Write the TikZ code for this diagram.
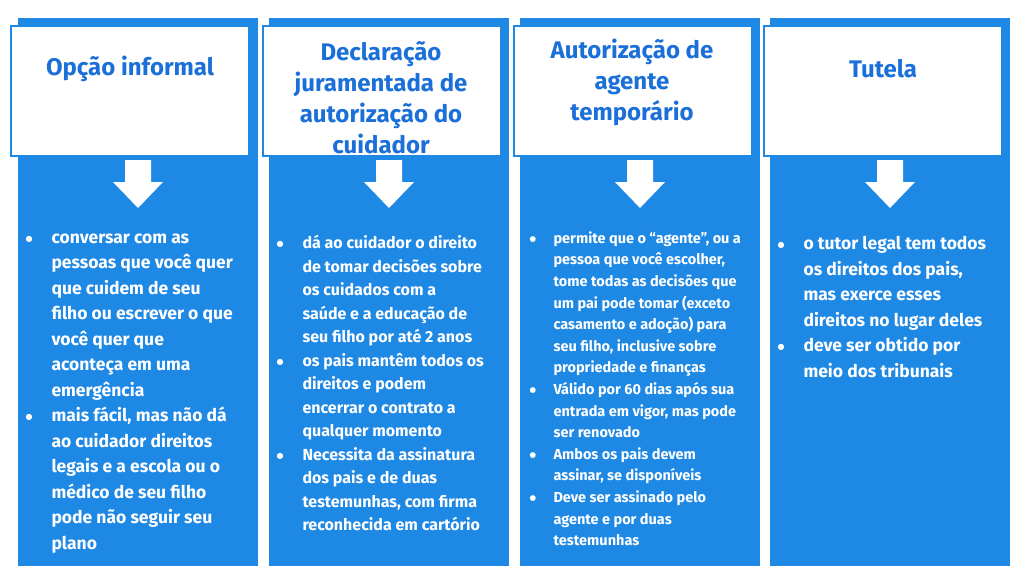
\documentclass[tikz,border=0pt]{standalone}
\usepackage{fontspec}
\setmainfont{Fira Sans}
\newfontfamily\symfont{DejaVu Sans}
\usetikzlibrary{positioning,arrows.meta}
\definecolor{colblue}{HTML}{1E88E5}
\definecolor{headblue}{HTML}{1A6FD8}
\tikzset{
  column/.style={fill=colblue, draw=none},
  headbox/.style={fill=white, draw=colblue, line width=1.5pt, minimum width=238pt, minimum height=130pt, anchor=north west},
  headtext/.style={text=headblue, font=\bfseries\fontsize{24}{31}\selectfont, align=center},
  downarrow/.style={fill=white, draw=none},
  bodytext/.style={text=white, anchor=north west, align=left}
}
\newcommand{\bl}{\makebox[26pt][l]{\raisebox{2pt}{\symfont\fontsize{8}{8}\selectfont ●}}}
\newcommand{\ind}{\hspace*{26pt}}
\newcommand{\bls}{\makebox[24pt][l]{\raisebox{2pt}{\symfont\fontsize{7.5}{8}\selectfont ●}}}
\newcommand{\inds}{\hspace*{24pt}}
\begin{document}
\begin{tikzpicture}[x=1pt,y=-1pt]
  \useasboundingbox (0,0) rectangle (1024,576);
  \fill[white] (0,0) rectangle (1024,576);
  % columns
  \foreach \cx/\nm in {18/ca, 269/cb, 520/cc, 770/cd}{
    \fill[column] (\cx,18) rectangle ++(240,548);
    \fill[downarrow] (\cx+107,160) -- ++(26,0) -- ++(0,22) -- ++(12,0) -- ++(-25,26) -- ++(-25,-26) -- ++(12,0) -- cycle;
  }
  % headers
  \node[headbox] (ha) at (10,25) {};
  \node[headbox] (hb) at (262,25) {};
  \node[headbox] (hc) at (513,25) {};
  \node[headbox] (hd) at (763,25) {};
  \node[headtext] at (130,69) {Opção informal};
  \node[headtext] at (381,97.5) {Declaração\\juramentada de\\autorização do\\cuidador};
  \node[headtext] at (632,82) {Autorização de\\agente\\temporário};
  \node[headtext] at (883,69) {Tutela};
  % bodies
  \node[bodytext, font=\bfseries\fontsize{17.5}{25.5}\selectfont] (ba) at (22,230) {%
    \bl conversar com as\\\ind pessoas que você quer\\\ind que cuidem de seu\\\ind filho ou escrever o que\\\ind você quer que\\\ind aconteça em uma\\\ind emergência\\%
    \bl mais fácil, mas não dá\\\ind ao cuidador direitos\\\ind legais e a escola ou o\\\ind médico de seu filho\\\ind pode não seguir seu\\\ind plano};
  \node[bodytext, font=\bfseries\fontsize{16}{23.5}\selectfont] (bb) at (273,232) {%
    \bl dá ao cuidador o direito\\\ind de tomar decisões sobre\\\ind os cuidados com a\\\ind saúde e a educação de\\\ind seu filho por até 2 anos\\%
    \bl os pais mantêm todos os\\\ind direitos e podem\\\ind encerrar o contrato a\\\ind qualquer momento\\%
    \bl Necessita da assinatura\\\ind dos pais e de duas\\\ind testemunhas, com firma\\\ind reconhecida em cartório};
  \node[bodytext, font=\bfseries\fontsize{14.5}{21.6}\selectfont] (bc) at (526,228) {%
    \bls permite que o “agente”, ou a\\\inds pessoa que você escolher,\\\inds tome todas as decisões que\\\inds um pai pode tomar (exceto\\\inds casamento e adoção) para\\\inds seu filho, inclusive sobre\\\inds propriedade e finanças\\%
    \bls Válido por 60 dias após sua\\\inds entrada em vigor, mas pode\\\inds ser renovado\\%
    \bls Ambos os pais devem\\\inds assinar, se disponíveis\\%
    \bls Deve ser assinado pelo\\\inds agente e por duas\\\inds testemunhas};
  \node[bodytext, font=\bfseries\fontsize{17.5}{25.5}\selectfont] (bd) at (774,233) {%
    \bl o tutor legal tem todos\\\ind os direitos dos pais,\\\ind mas exerce esses\\\ind direitos no lugar deles\\%
    \bl deve ser obtido por\\\ind meio dos tribunais};
\end{tikzpicture}
\end{document}
